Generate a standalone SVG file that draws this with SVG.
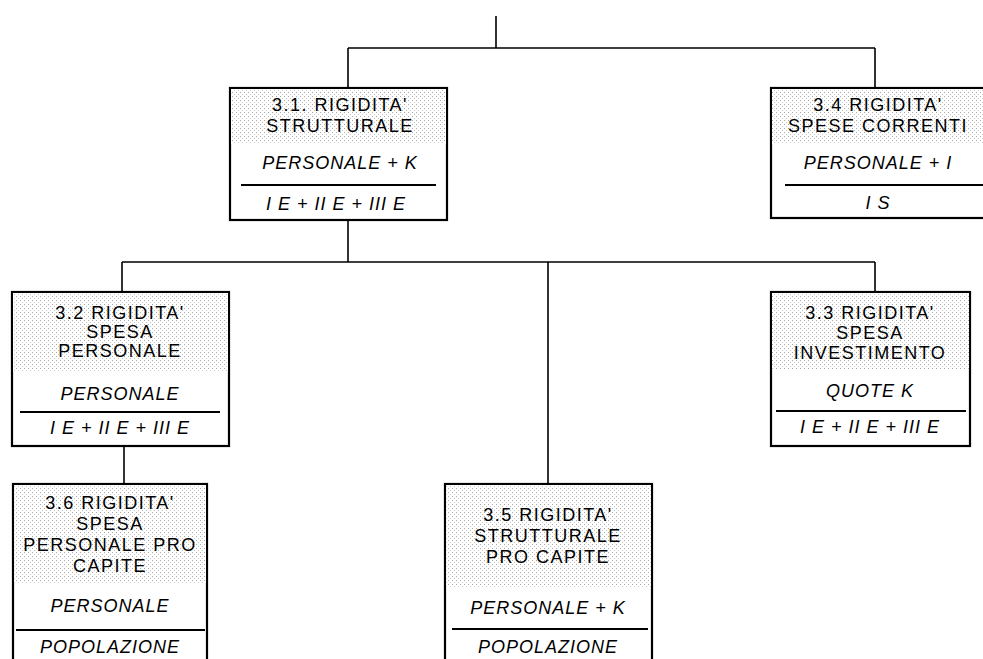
<svg xmlns="http://www.w3.org/2000/svg" width="983" height="659" viewBox="0 0 983 659">
<defs>
<pattern id="dots" width="4" height="4" patternUnits="userSpaceOnUse">
<rect width="4" height="4" fill="#ffffff"/>
<rect x="0" y="0" width="1" height="1" fill="#a8a8a8"/>
<rect x="2" y="2" width="1" height="1" fill="#c4c4c4"/>
</pattern>
<style>
.box{fill:#ffffff;stroke:#000;stroke-width:2.2}
.hdr{fill:url(#dots);stroke:none}
.div{stroke:#000;stroke-width:2}
.con{stroke:#000;stroke-width:1.6;fill:none}
.t{font-family:"Liberation Sans",Arial,sans-serif;font-size:18px;letter-spacing:1.5px;text-anchor:middle;fill:#000}
.i{font-family:"Liberation Sans",Arial,sans-serif;font-size:18px;font-style:italic;letter-spacing:1px;text-anchor:middle;fill:#000}
</style>
</defs>
<rect width="983" height="659" fill="#ffffff"/>
<g id="connectors">
<path class="con" d="M496 16 V48 M348 48 H875 M348 48 V88 M875 48 V88"/>
<path class="con" d="M348 220 V262 M122 262 H875 M122 262 V292 M548 262 V484 M875 262 V292"/>
<path class="con" d="M124 446 V484"/>
</g>
<g id="n31">
<rect class="box" x="230" y="88" width="217" height="132"/>
<rect class="hdr" x="231" y="89" width="215" height="55"/>
<text class="t" x="340" y="110.5">3.1. RIGIDITA'</text>
<text class="t" x="340" y="131.5">STRUTTURALE</text>
<text class="i" x="340" y="168.5">PERSONALE + K</text>
<line class="div" x1="241" y1="185" x2="436" y2="185"/>
<text class="i" x="336" y="209.5">I E + II E + III E</text>
</g>
<g id="n34">
<rect class="box" x="771" y="88" width="216" height="130"/>
<rect class="hdr" x="772" y="89" width="214" height="55"/>
<text class="t" x="878" y="110.5">3.4 RIGIDITA'</text>
<text class="t" x="878" y="131.5">SPESE CORRENTI</text>
<text class="i" x="878" y="168.5">PERSONALE + I</text>
<line class="div" x1="785" y1="185" x2="983" y2="185"/>
<text class="i" x="878" y="208.5">I S</text>
</g>
<g id="n32">
<rect class="box" x="12" y="292" width="217" height="154"/>
<rect class="hdr" x="13" y="293" width="215" height="79"/>
<text class="t" x="120" y="318.5">3.2 RIGIDITA'</text>
<text class="t" x="120" y="337.5">SPESA</text>
<text class="t" x="120" y="356.5">PERSONALE</text>
<text class="i" x="120" y="399.5">PERSONALE</text>
<line class="div" x1="20" y1="412" x2="220" y2="412"/>
<text class="i" x="120" y="433.5">I E + II E + III E</text>
</g>
<g id="n33">
<rect class="box" x="771" y="292" width="199" height="154"/>
<rect class="hdr" x="772" y="293" width="197" height="77"/>
<text class="t" x="870" y="318.5">3.3 RIGIDITA'</text>
<text class="t" x="870" y="338.5">SPESA</text>
<text class="t" x="870" y="358.5">INVESTIMENTO</text>
<text class="i" x="870" y="396.5">QUOTE K</text>
<line class="div" x1="776" y1="411" x2="966" y2="411"/>
<text class="i" x="870" y="432.5">I E + II E + III E</text>
</g>
<g id="n36">
<rect class="box" x="13" y="484" width="194" height="190"/>
<rect class="hdr" x="14" y="485" width="192" height="98"/>
<text class="t" x="110" y="508.5">3.6 RIGIDITA'</text>
<text class="t" x="110" y="529.5">SPESA</text>
<text class="t" x="110" y="550.5">PERSONALE PRO</text>
<text class="t" x="110" y="571.5">CAPITE</text>
<text class="i" x="110" y="611.5">PERSONALE</text>
<line class="div" x1="16" y1="630" x2="205" y2="630"/>
<text class="i" x="110" y="653">POPOLAZIONE</text>
</g>
<g id="n35">
<rect class="box" x="445" y="484" width="207" height="190"/>
<rect class="hdr" x="446" y="485" width="205" height="103"/>
<text class="t" x="548" y="520.5">3.5 RIGIDITA'</text>
<text class="t" x="548" y="541.5">STRUTTURALE</text>
<text class="t" x="548" y="562.5">PRO CAPITE</text>
<text class="i" x="548" y="613.5">PERSONALE + K</text>
<line class="div" x1="452" y1="629" x2="648" y2="629"/>
<text class="i" x="548" y="653">POPOLAZIONE</text>
</g>
</svg>
